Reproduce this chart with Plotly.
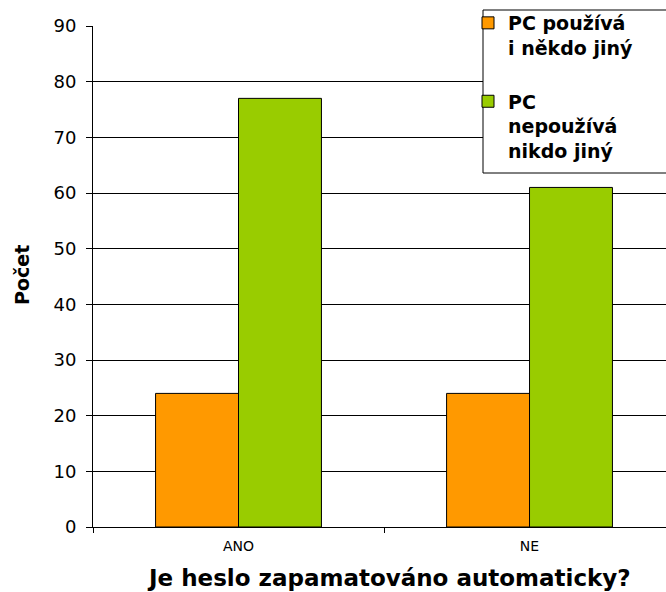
import plotly.graph_objects as go

categories = ["ANO", "NE"]
series_names = ["PC používá<br>i někdo jiný", "PC<br>nepoužívá<br>nikdo jiný"]
values_uses_other = [24, 24]
values_no_other = [77, 61]
colors = ["#FF9900", "#99CC00"]
y_ticks = [0, 10, 20, 30, 40, 50, 60, 70, 80, 90]

FONT = "DejaVu Sans, Arial, sans-serif"
W, H = 666, 592
L, T, B, R = 93, 26, 65, 0
PW, PH = W - L - R, H - T - B

def px_x(px):
    return (px - L) / PW

def px_y(py):
    return (H - B - py) / PH

fig = go.Figure()
for i, (name, vals, col) in enumerate(zip(series_names, [values_uses_other, values_no_other], colors)):
    fig.add_trace(go.Bar(
        x=categories, y=vals, name=name, legendgroup=f"g{i}",
        marker=dict(color=col, line=dict(color="black", width=1)),
    ))

fig.update_layout(
    width=W, height=H,
    margin=dict(l=L, r=R, t=T, b=B, autoexpand=False),
    paper_bgcolor="white", plot_bgcolor="white",
    barmode="group", bargap=0.43, bargroupgap=0,
    font=dict(family=FONT, color="black"),
    showlegend=True,
    legend=dict(
        x=px_x(468), y=px_y(4), xanchor="left", yanchor="top",
        bgcolor="rgba(0,0,0,0)", borderwidth=0,
        font=dict(family=FONT, size=19, color="black", weight="bold"),
        valign="top", tracegroupgap=26,
    ),
    xaxis=dict(
        type="category", range=[-0.5, 1.469],
        showline=True, linecolor="black", linewidth=1,
        ticks="outside", tickson="boundaries", ticklen=5, tickcolor="black",
        tickfont=dict(family=FONT, size=14, color="black"),
        ticklabelstandoff=6,
        showgrid=False,
    ),
    yaxis=dict(
        range=[0, 90], tickvals=y_ticks,
        showline=True, linecolor="black", linewidth=1,
        ticks="outside", ticklen=6, tickcolor="black",
        tickfont=dict(family=FONT, size=18, color="black"),
        ticklabelstandoff=6,
        showgrid=True, gridcolor="black", gridwidth=1,
        zeroline=False,
    ),
    shapes=[
        dict(type="rect", xref="paper", yref="paper",
             x0=px_x(483), x1=px_x(680), y0=px_y(173), y1=px_y(10),
             fillcolor="white", line=dict(color="black", width=1), layer="above"),
    ],
    annotations=[
        dict(text="<b>Je heslo zapamatováno automaticky?</b>", xref="paper", yref="paper",
             x=px_x(389), y=px_y(578), xanchor="center", yanchor="middle", showarrow=False,
             font=dict(family=FONT, size=23, color="black")),
        dict(text="<b>Počet</b>", xref="paper", yref="paper",
             x=px_x(22), y=px_y(275), xanchor="center", yanchor="middle", showarrow=False,
             textangle=-90, font=dict(family=FONT, size=19, color="black")),
    ],
)

fig.write_html("out.html", config={"displayModeBar": False})

with open("out.html", "r", encoding="utf-8") as f:
    html = f.read()
html = html.replace("<body>", '<body style="margin:0;padding:0;overflow:hidden">', 1)
with open("out.html", "w", encoding="utf-8") as f:
    f.write(html)
